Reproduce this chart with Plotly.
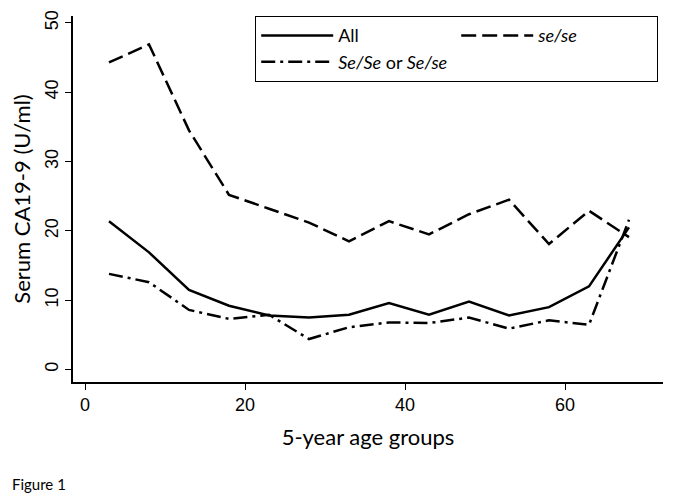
import plotly.graph_objects as go

age_groups = [3, 8, 13, 18, 23, 28, 33, 38, 43, 48, 53, 58, 63, 68]
all_vals = [21.4, 16.9, 11.5, 9.2, 7.8, 7.5, 7.9, 9.6, 7.9, 9.8, 7.8, 9.0, 12.0, 20.5]
sese_vals = [44.3, 46.9, 34.5, 25.2, 23.2, 21.2, 18.5, 21.4, 19.5, 22.4, 24.5, 18.1, 22.9, 19.1]
SeSe_vals = [13.8, 12.6, 8.6, 7.3, 7.9, 4.4, 6.1, 6.8, 6.7, 7.5, 5.9, 7.1, 6.45, 21.6]

series_names = ["All", "<i>se/se</i>", "<i>Se/Se</i> or <i>Se/se</i>"]
x_ticks = [0, 20, 40, 60]
y_ticks = [0, 10, 20, 30, 40, 50]

title_font = "Lato, 'Open Sans', sans-serif"
tick_font = "'Liberation Sans', Arial, sans-serif"

fig = go.Figure()
fig.add_trace(go.Scatter(x=age_groups, y=all_vals, mode="lines", name=series_names[0],
                         line=dict(color="black", width=2.5)))
fig.add_trace(go.Scatter(x=age_groups, y=sese_vals, mode="lines", name=series_names[1],
                         line=dict(color="black", width=2.5, dash="15px,6px")))
fig.add_trace(go.Scatter(x=age_groups, y=SeSe_vals, mode="lines", name=series_names[2],
                         line=dict(color="black", width=2.5, dash="14px,5px,3px,5px")))

# page body has an 8px default margin, so the figure is sized to fit the window
fig.update_layout(
    width=677, height=490,
    margin=dict(l=65, r=22, t=8, b=116),
    paper_bgcolor="white", plot_bgcolor="white",
    showlegend=True,
    legend=dict(
        orientation="h", x=0.3085, y=1.0, xanchor="left", yanchor="top",
        bordercolor="black", borderwidth=1.2, bgcolor="white",
        entrywidth=113, entrywidthmode="pixels", itemwidth=72,
        font=dict(family=title_font, size=18, color="black"),
        traceorder="normal",
    ),
    xaxis=dict(
        range=[-1.5, 72.25], tickvals=x_ticks, ticks="outside", ticklen=6, tickwidth=1.2,
        tickcolor="black", showline=True, linecolor="black", linewidth=1.5,
        showgrid=False, zeroline=False, mirror=False, automargin=False,
        tickfont=dict(family=tick_font, size=18, color="black"),
        title=dict(text="5-year age groups", font=dict(family=title_font, size=22, color="black"),
                   standoff=15),
    ),
    yaxis=dict(
        range=[-1.8, 51], tickvals=y_ticks, ticks="outside", ticklen=6, tickwidth=1.2,
        tickcolor="black", showline=True, linecolor="black", linewidth=1.5,
        showgrid=False, zeroline=False, tickangle=-90, automargin=False,
        tickfont=dict(family=tick_font, size=18, color="black"),
        title=dict(text="Serum CA19-9 (U/ml)", font=dict(family=title_font, size=22, color="black"),
                   standoff=7),
    ),
    annotations=[dict(text="Figure 1", xref="paper", yref="paper", x=-0.107, y=-0.279,
                      xanchor="left", yanchor="middle", showarrow=False,
                      font=dict(family=title_font, size=15, color="black"))],
)

fig.write_html("out.html")
